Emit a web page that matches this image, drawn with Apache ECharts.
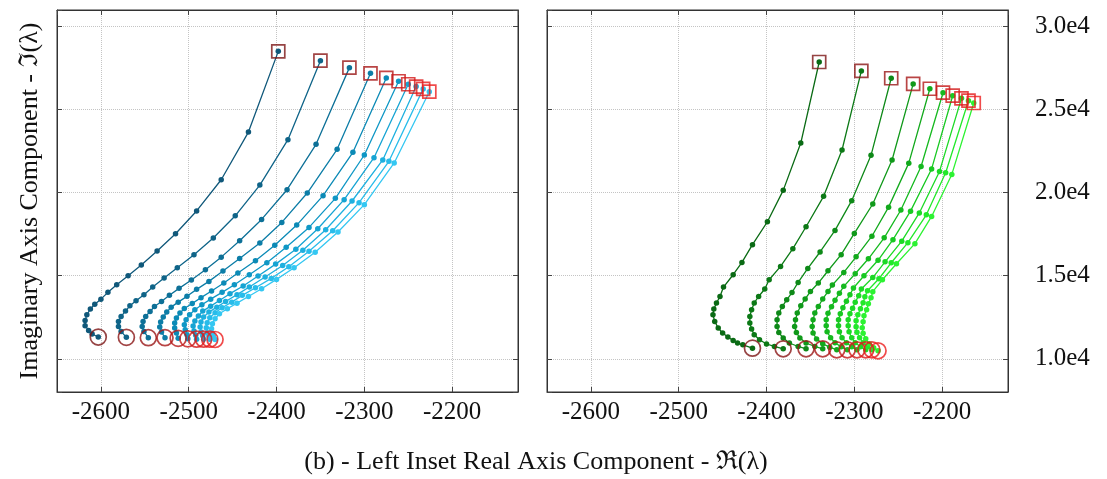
<!DOCTYPE html>
<html>
<head>
<meta charset="utf-8">
<title>Root loci - left inset</title>
<script src="https://cdn.jsdelivr.net/npm/echarts@6/dist/echarts.min.js"></script>
<style>
  html, body { margin: 0; padding: 0; background: #fff; }
  #chart { width: 1107px; height: 479px; }
</style>
</head>
<body>
<div id="chart"></div>
<script>
// each curve: [real, imag] points, from start (circle) to end (square)
const left1 = [[-2603,11310],[-2610,11490],[-2614,11710],[-2618,11990],[-2618,12310],[-2616,12650],[-2612,12990],[-2607,13290],[-2600,13590],[-2592,14000],[-2582,14460],[-2569,15000],[-2554,15640],[-2536,16490],[-2515,17530],[-2491,18900],[-2463,20780],[-2432,23650],[-2398,28510]]
const left2 = [[-2571,11290],[-2577,11650],[-2580,11950],[-2580,12250],[-2577,12550],[-2572,12870],[-2567,13190],[-2560,13490],[-2551,13860],[-2541,14320],[-2528,14860],[-2513,15480],[-2494,16270],[-2472,17270],[-2447,18610],[-2419,20460],[-2387,23190],[-2350,27950]]
const left3 = [[-2546,11270],[-2551,11650],[-2553,11950],[-2552,12250],[-2549,12550],[-2544,12850],[-2539,13150],[-2531,13450],[-2522,13820],[-2511,14240],[-2497,14740],[-2481,15360],[-2463,16120],[-2442,17110],[-2417,18390],[-2388,20180],[-2355,22910],[-2317,27530]]
const left4 = [[-2527,11270],[-2531,11610],[-2533,11910],[-2532,12210],[-2529,12510],[-2525,12810],[-2520,13110],[-2512,13410],[-2502,13760],[-2491,14180],[-2477,14660],[-2461,15280],[-2442,16040],[-2419,16970],[-2394,18210],[-2365,19980],[-2331,22610],[-2293,27190]]
const left5 = [[-2512,11230],[-2514,11550],[-2516,11850],[-2516,12150],[-2514,12450],[-2510,12750],[-2505,13030],[-2496,13330],[-2486,13680],[-2474,14080],[-2460,14560],[-2444,15160],[-2424,15900],[-2402,16830],[-2377,18050],[-2347,19820],[-2313,22430],[-2275,26910]]
const left6 = [[-2501,11200],[-2502,11450],[-2504,11750],[-2505,12050],[-2503,12350],[-2499,12650],[-2493,12950],[-2485,13250],[-2475,13590],[-2462,14000],[-2448,14460],[-2431,15060],[-2411,15780],[-2389,16710],[-2363,17910],[-2333,19660],[-2300,22270],[-2261,26710]]
const left7 = [[-2491,11180],[-2492,11410],[-2494,11670],[-2495,11970],[-2493,12270],[-2489,12570],[-2484,12870],[-2475,13170],[-2465,13510],[-2453,13920],[-2438,14380],[-2421,14980],[-2401,15700],[-2378,16590],[-2353,17830],[-2323,19580],[-2289,22110],[-2250,26530]]
const left8 = [[-2483,11180],[-2484,11390],[-2486,11610],[-2487,11910],[-2486,12210],[-2483,12510],[-2477,12810],[-2468,13110],[-2458,13450],[-2445,13860],[-2431,14320],[-2413,14920],[-2393,15620],[-2370,16530],[-2344,17770],[-2314,19500],[-2279,21970],[-2241,26390]]
const left9 = [[-2476,11180],[-2477,11370],[-2479,11570],[-2480,11870],[-2479,12170],[-2476,12470],[-2470,12770],[-2462,13070],[-2451,13410],[-2439,13820],[-2424,14280],[-2406,14840],[-2386,15540],[-2363,16470],[-2336,17710],[-2306,19400],[-2272,21890],[-2233,26250]]
const left10 = [[-2470,11160],[-2472,11350],[-2473,11530],[-2474,11810],[-2473,12110],[-2470,12410],[-2465,12710],[-2456,13010],[-2445,13350],[-2432,13750],[-2417,14220],[-2400,14780],[-2380,15480],[-2356,16410],[-2330,17630],[-2300,19280],[-2266,21790],[-2226,26080]]

const right1 = [[-2416,10640],[-2427,10840],[-2433,10950],[-2438,11100],[-2444,11310],[-2450,11550],[-2455,11850],[-2459,12250],[-2461,12650],[-2460,12990],[-2457,13360],[-2453,13750],[-2449,14320],[-2438,15060],[-2428,15800],[-2416,16870],[-2399,18250],[-2381,20140],[-2361,22990],[-2340,27870]]
const right2 = [[-2381,10600],[-2391,10740],[-2400,10890],[-2408,11150],[-2414,11450],[-2417,11790],[-2419,12150],[-2419,12550],[-2417,12950],[-2414,13360],[-2409,13750],[-2402,14200],[-2397,14760],[-2384,15560],[-2370,16630],[-2355,17950],[-2335,19780],[-2314,22570],[-2292,27330]]
const right3 = [[-2355,10600],[-2364,10740],[-2374,10950],[-2381,11250],[-2386,11580],[-2388,11950],[-2388,12350],[-2386,12750],[-2382,13150],[-2377,13550],[-2371,13990],[-2364,14600],[-2353,15440],[-2339,16430],[-2322,17730],[-2303,19520],[-2281,22250],[-2258,26890]]
const right4 = [[-2336,10600],[-2345,10740],[-2355,10950],[-2362,11250],[-2366,11580],[-2368,11950],[-2367,12350],[-2365,12750],[-2361,13190],[-2356,13600],[-2350,14050],[-2341,14560],[-2330,15300],[-2315,16270],[-2300,17550],[-2279,19320],[-2257,21970],[-2233,26550]]
const right5 = [[-2320,10540],[-2328,10700],[-2336,10900],[-2343,11190],[-2347,11550],[-2348,11950],[-2347,12350],[-2345,12750],[-2341,13150],[-2336,13600],[-2330,14050],[-2325,14440],[-2312,15200],[-2298,16140],[-2280,17380],[-2261,19130],[-2238,21780],[-2214,26260]]
const right6 = [[-2308,10540],[-2315,10720],[-2322,10960],[-2327,11270],[-2331,11630],[-2332,11990],[-2332,12350],[-2330,12740],[-2326,13130],[-2322,13520],[-2317,13950],[-2312,14360],[-2299,15120],[-2284,16020],[-2266,17280],[-2247,18960],[-2224,21580],[-2199,26020]]
const right7 = [[-2297,10540],[-2303,10720],[-2309,10960],[-2314,11270],[-2317,11630],[-2318,11990],[-2318,12350],[-2316,12710],[-2313,13070],[-2309,13460],[-2305,13860],[-2301,14260],[-2289,15000],[-2273,15930],[-2256,17170],[-2236,18890],[-2212,21430],[-2188,25840]]
const right8 = [[-2287,10540],[-2293,10720],[-2299,10960],[-2303,11270],[-2306,11630],[-2307,11990],[-2307,12350],[-2305,12710],[-2302,13040],[-2299,13400],[-2295,13800],[-2292,14200],[-2279,14890],[-2265,15840],[-2246,17080],[-2226,18780],[-2203,21280],[-2178,25680]]
const right9 = [[-2280,10540],[-2285,10720],[-2290,10960],[-2294,11270],[-2297,11600],[-2298,11930],[-2298,12290],[-2296,12650],[-2293,13010],[-2290,13370],[-2288,13730],[-2285,14100],[-2272,14820],[-2258,15780],[-2239,16990],[-2218,18670],[-2196,21200],[-2170,25540]]
const right10 = [[-2273,10480],[-2278,10660],[-2283,10900],[-2287,11200],[-2290,11540],[-2291,11870],[-2290,12230],[-2289,12590],[-2286,12950],[-2284,13310],[-2281,13670],[-2279,14040],[-2268,14760],[-2252,15720],[-2231,16930],[-2212,18570],[-2189,21100],[-2164,25400]]

const leftCurves = [left1, left2, left3, left4, left5, left6, left7, left8, left9, left10]
const rightCurves = [right1, right2, right3, right4, right5, right6, right7, right8, right9, right10]

const xName = '(b) - Left Inset Real Axis Component - \u211C(\u03BB)'
const yName = 'Imaginary Axis Component - \u2111(\u03BB)'

// colours dark -> light along the sweep
const blues = ['#10587a', '#0f6488', '#0d7097', '#0c7da7', '#0b8ab6', '#0f97c5', '#16a4d3', '#1eb0df', '#28bcea', '#34c7f2']
const greens = ['#0a6a14', '#0c7916', '#0e8918', '#10991a', '#12a91c', '#15b91f', '#18c922', '#1cd925', '#22e82a', '#2cf232']
const reds = ['#7c1515', '#8a1515', '#991616', '#a81717', '#b71818', '#c51818', '#d21919', '#dc1a1a', '#e41c1c', '#ec1e1e']

const serif = '"Liberation Serif", "Times New Roman", serif'

function curveSeries (curves, colors, xi, yi) {
  return curves.map((pts, i) => ({
    type: 'line',
    xAxisIndex: xi,
    yAxisIndex: yi,
    data: pts,
    symbol: 'circle',
    symbolSize: 5.5,
    showSymbol: true,
    smooth: false,
    lineStyle: { color: colors[i], width: 1.3 },
    itemStyle: { color: colors[i] },
    z: 3
  }))
}

function endSeries (curves, xi, yi, pick, symbol, size) {
  return {
    type: 'scatter',
    xAxisIndex: xi,
    yAxisIndex: yi,
    symbol: symbol,
    symbolSize: size,
    data: curves.map((pts, i) => ({
      value: pick === 'first' ? pts[0] : pts[pts.length - 1],
      itemStyle: { color: 'rgba(0,0,0,0)', borderColor: reds[i], borderWidth: 1.7 }
    })),
    z: 5
  }
}

function xAxisDef (grid, pos, labels) {
  return {
    type: 'value',
    gridIndex: grid,
    position: pos,
    min: -2650,
    max: -2125,
    splitNumber: 5,
    axisLine: { show: true, onZero: false, lineStyle: { color: '#333', width: 1 } },
    axisTick: { show: true, inside: true, length: 5, lineStyle: { color: '#444' } },
    axisLabel: {
      show: labels, color: '#111', fontFamily: serif, fontSize: 25, margin: 8,
      showMinLabel: false, showMaxLabel: false,
      formatter: v => String(v)
    },
    splitLine: { show: pos === 'bottom', lineStyle: { color: '#c4c4c4', type: 'dotted', width: 1 } }
  }
}

function yAxisDef (grid, pos, labels, split) {
  return {
    type: 'value',
    gridIndex: grid,
    position: pos,
    min: 8000,
    max: 31000,
    splitNumber: 5,
    axisLine: { show: true, onZero: false, lineStyle: { color: '#333', width: 1 } },
    axisTick: { show: true, inside: true, length: 5, lineStyle: { color: '#444' } },
    axisLabel: {
      show: labels, color: '#111', fontFamily: serif, fontSize: 25, margin: 27,
      showMinLabel: false, showMaxLabel: false,
      formatter: v => (v / 10000).toFixed(1) + 'e4'
    },
    splitLine: { show: split, lineStyle: { color: '#c4c4c4', type: 'dotted', width: 1 } }
  }
}

const chart = echarts.init(document.getElementById('chart'), null, { renderer: 'canvas' })

const yLeft = yAxisDef(0, 'left', false, true)
yLeft.name = yName
yLeft.nameLocation = 'middle'
yLeft.nameGap = 14
yLeft.nameRotate = 90
yLeft.nameTextStyle = { fontFamily: serif, fontSize: 26, color: '#111' }

chart.setOption({
  animation: false,
  backgroundColor: '#fff',
  grid: [
    { left: 57, top: 10, width: 461, height: 382, show: true, borderColor: '#333', borderWidth: 1, backgroundColor: 'transparent' },
    { left: 547, top: 10, width: 461, height: 382, show: true, borderColor: '#333', borderWidth: 1, backgroundColor: 'transparent' }
  ],
  xAxis: [
    xAxisDef(0, 'bottom', true),
    xAxisDef(0, 'top', false),
    xAxisDef(1, 'bottom', true),
    xAxisDef(1, 'top', false)
  ],
  yAxis: [
    yLeft,
    yAxisDef(0, 'right', false, false),
    yAxisDef(1, 'left', false, true),
    yAxisDef(1, 'right', true, false)
  ],
  graphic: [
    {
      type: 'text',
      x: 536,
      y: 462,
      style: { text: xName, font: '26px "Liberation Serif", "Times New Roman", serif', fill: '#111', textAlign: 'center', textVerticalAlign: 'middle' }
    }
  ],
  series: [].concat(
    curveSeries(leftCurves, blues, 0, 0),
    curveSeries(rightCurves, greens, 2, 2),
    [
      endSeries(leftCurves, 0, 0, 'first', 'circle', 16),
      endSeries(leftCurves, 0, 0, 'last', 'rect', 13),
      endSeries(rightCurves, 2, 2, 'first', 'circle', 16),
      endSeries(rightCurves, 2, 2, 'last', 'rect', 13)
    ]
  )
})
</script>
</body>
</html>
